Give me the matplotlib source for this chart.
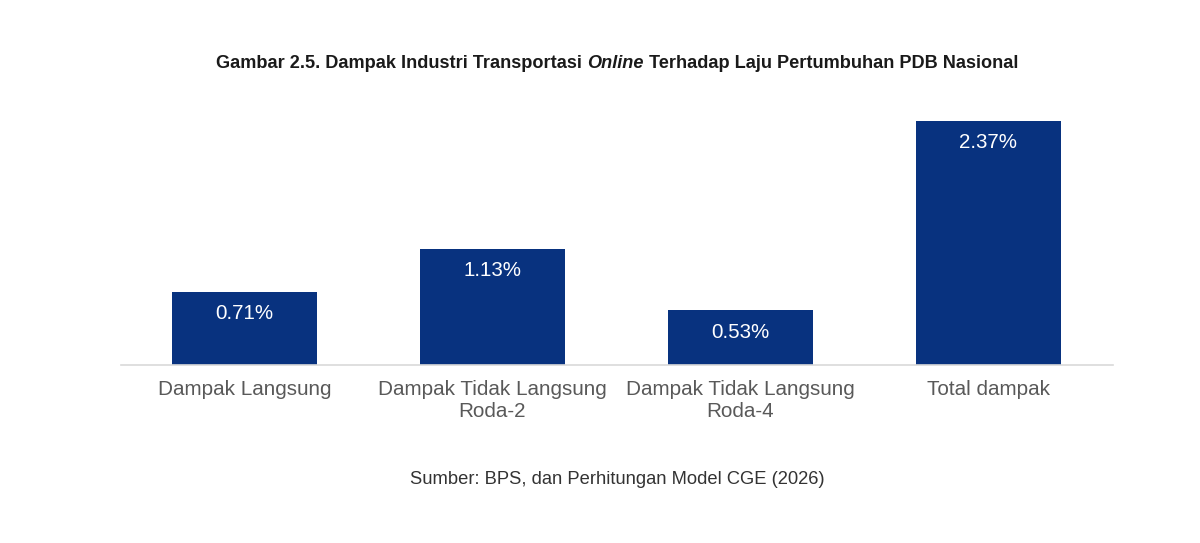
import matplotlib
matplotlib.use("Agg")
import matplotlib.pyplot as plt
from matplotlib import font_manager

categories = ["Dampak Langsung", "Dampak Tidak Langsung\nRoda-2",
              "Dampak Tidak Langsung\nRoda-4", "Total dampak"]
values = [0.71, 1.13, 0.53, 2.37]
value_labels = ["0.71%", "1.13%", "0.53%", "2.37%"]

title_parts = ["Gambar 2.5. Dampak Industri Transportasi ", "Online",
               " Terhadap Laju Pertumbuhan PDB Nasional"]
source_text = "Sumber: BPS, dan Perhitungan Model CGE (2026)"

names = {f.name for f in font_manager.fontManager.ttflist}
narrow = "Liberation Sans Narrow" if "Liberation Sans Narrow" in names else "Liberation Sans"
plt.rcParams["font.family"] = ["Liberation Sans", "DejaVu Sans"]

W, H = 1200, 543
fig = plt.figure(figsize=(12, 5.43), dpi=100)
ax = fig.add_axes([120.5 / W, 1 - 365 / H, 992 / W, 267.7 / H])

bar_color = "#08327F"
x = list(range(len(categories)))
bars = ax.bar(x, values, width=0.585, color=bar_color, zorder=2)
ax.set_xlim(-0.5, len(categories) - 0.5)
ax.set_ylim(0, 2.6)

for b, lab in zip(bars, value_labels):
    ax.annotate(lab, xy=(b.get_x() + b.get_width() / 2, b.get_height()),
                xytext=(0, -22), textcoords="offset pixels",
                ha="center", va="center", color="white", fontsize=14.8)

for s in ["top", "right", "left"]:
    ax.spines[s].set_visible(False)
ax.spines["bottom"].set_color("#D9D9D9")
ax.spines["bottom"].set_linewidth(1.2)
ax.set_yticks([])
ax.set_xticks(x)
ax.set_xticklabels(categories, fontsize=14.9, color="#595959", linespacing=1.15)
ax.tick_params(axis="x", length=0, pad=11)

# Title built from pieces (bold, italic bold, bold)
fig.canvas.draw()
r = fig.canvas.get_renderer()
fp = dict(fontsize=13.1, fontweight="bold", family=narrow, color="#1a1a1a")
t0 = fig.text(0, 1 - 63 / H, title_parts[0], va="center", ha="left", **fp)
t1 = fig.text(0, 1 - 63 / H, title_parts[1], va="center", ha="left",
              style="italic", **fp)
t2 = fig.text(0, 1 - 63 / H, title_parts[2], va="center", ha="left", **fp)
widths = [t.get_window_extent(r).width for t in (t0, t1, t2)]
total = sum(widths)
start = 617 - total / 2
for t, w in zip((t0, t1, t2), widths):
    t.set_x(start / W)
    start += w

fig.text(617 / W, 1 - 479 / H, source_text, ha="center", va="center",
         fontsize=13.2, color="#333333")

fig.savefig("out.png", dpi=100, facecolor="white")
